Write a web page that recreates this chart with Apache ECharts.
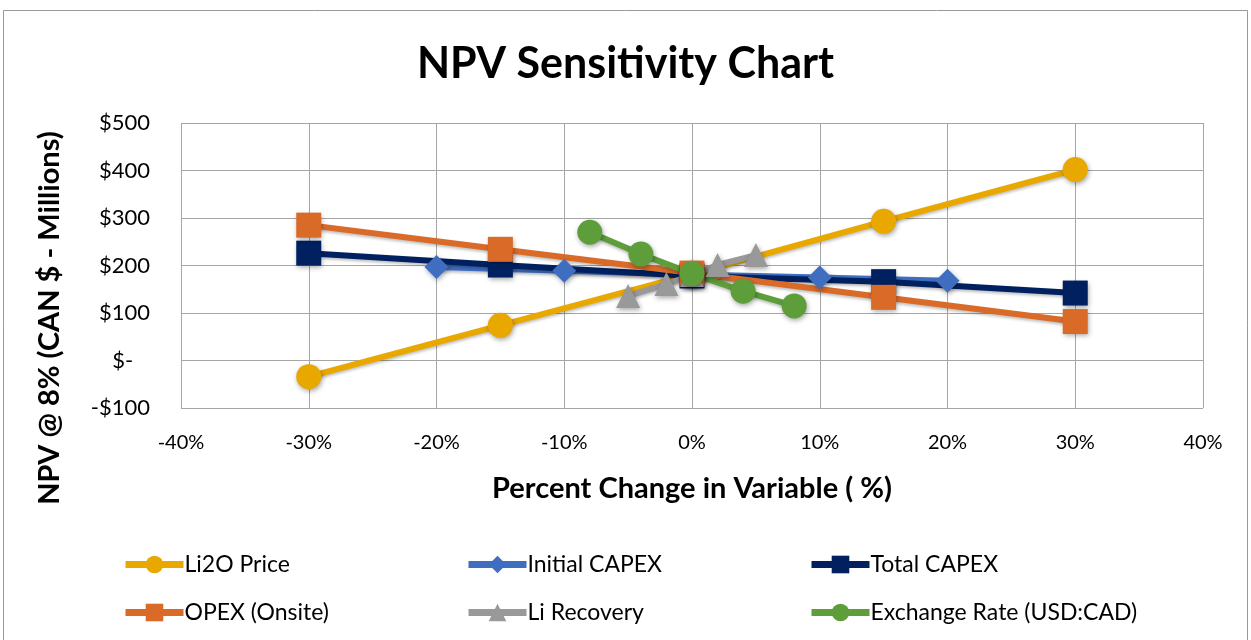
<!DOCTYPE html>
<html>
<head>
<meta charset="utf-8">
<script src="https://cdn.jsdelivr.net/npm/echarts@6/dist/echarts.min.js"></script>
<style>
html,body{margin:0;padding:0;background:#fff;}
#c{width:1251px;height:640px;}
</style>
</head>
<body>
<div id="c"></div>
<script>
// ---- data ----
const seriesNames = ['Li2O Price','Initial CAPEX','Total CAPEX','OPEX (Onsite)','Li Recovery','Exchange Rate (USD:CAD)'];
const li2oX = [-30,-15,0,15,30];
const li2oY = [-34,74,182,293,402];
const initCapexX = [-20,-10,0,10,20];
const initCapexY = [197,189,181,175,168];
const totCapexX = [-30,-15,0,15,30];
const totCapexY = [226,201,178,166,142];
const opexX = [-30,-15,0,15,30];
const opexY = [285,234,184,133,82];
const liRecX = [-5,-2,0,2,5];
const liRecY = [136,161,180,201,222];
const fxX = [-8,-4,0,4,8];
const fxY = [270,224,183,146,115];
const xTicks = [-40,-30,-20,-10,0,10,20,30,40];
const yTicks = [-100,0,100,200,300,400,500];

const FONT = 'Lato';
const pairs = (xs, ys) => xs.map((x, i) => [x, ys[i]]);

function mk(name, xs, ys, color, symbol, size) {
  return {
    name: name, type: 'line', data: pairs(xs, ys),
    symbol: symbol, symbolSize: size, showSymbol: true,
    lineStyle: {color: color, width: 6, shadowBlur: 3, shadowColor: 'rgba(0,0,0,0.25)', shadowOffsetY: 2},
    itemStyle: {color: color, opacity: 1, shadowBlur: 5, shadowColor: 'rgba(0,0,0,0.35)', shadowOffsetX: 1, shadowOffsetY: 2},
    emphasis: {disabled: true},
    z: 2
  };
}

const chart = echarts.init(document.getElementById('c'), null, {renderer: 'canvas'});
const legendPos = [[122,553],[465,553],[808,553],[122,601],[465,601],[808,601]];
const legends = seriesNames.map((n, i) => ({
  data: [n], left: legendPos[i][0], top: legendPos[i][1], padding: 0,
  itemWidth: 58, itemHeight: 22, itemGap: 4,
  lineStyle: {width: 7},
  textStyle: {fontFamily: FONT, fontSize: 23, color: '#000', padding: [0,0,0,-4]},
  selectedMode: false
}));

chart.setOption({
  animation: false,
  backgroundColor: '#fff',
  title: {
    text: 'NPV Sensitivity Chart', left: 'center', top: 38,
    textStyle: {fontFamily: FONT, fontWeight: 'bold', fontSize: 43, color: '#000'}
  },
  graphic: [
    {type: 'rect', shape: {x: 3.5, y: 10.5, width: 1244, height: 660},
      style: {fill: 'none', stroke: '#999', lineWidth: 1}, silent: true, z: -1},
    {type: 'text', x: 50, y: 318, rotation: Math.PI / 2,
      style: {text: 'NPV @ 8% (CAN $ - Millions)', fontFamily: FONT, fontWeight: 'bold', fontSize: 29,
        fill: '#000', align: 'center', verticalAlign: 'middle'}, silent: true}
  ],
  legend: legends,
  grid: {left: 181, right: 48, top: 123, bottom: 232, containLabel: false},
  xAxis: {
    type: 'value', min: -40, max: 40, interval: 10,
    name: 'Percent Change in Variable ( %)', nameLocation: 'middle', nameGap: 66,
    nameTextStyle: {fontFamily: FONT, fontWeight: 'bold', fontSize: 29, color: '#000'},
    axisLine: {show: false}, axisTick: {show: false},
    axisLabel: {fontFamily: FONT, fontSize: 20, color: '#000', margin: 25, formatter: v => v + '%'},
    splitLine: {show: true, lineStyle: {color: '#a6a6a6', width: 1}}
  },
  yAxis: {
    type: 'value', min: -100, max: 500, interval: 100,
    axisLine: {show: false}, axisTick: {show: false},
    axisLabel: {fontFamily: FONT, fontSize: 22, color: '#000', margin: 31,
      formatter: v => v === 0 ? '$-   ' : (v < 0 ? '-$' + (-v) : '$' + v)},
    splitLine: {show: true, lineStyle: {color: '#a6a6a6', width: 1}}
  },
  series: [
    mk(seriesNames[0], li2oX, li2oY, '#E8A800', 'circle', 25),
    mk(seriesNames[1], initCapexX, initCapexY, '#3F6DBF', 'diamond', 24),
    mk(seriesNames[2], totCapexX, totCapexY, '#002060', 'rect', 25),
    mk(seriesNames[3], opexX, opexY, '#DA6A28', 'rect', 25),
    mk(seriesNames[4], liRecX, liRecY, '#999999', 'triangle', 24),
    mk(seriesNames[5], fxX, fxY, '#5E9E3A', 'circle', 25)
  ]
});
</script>
</body>
</html>
